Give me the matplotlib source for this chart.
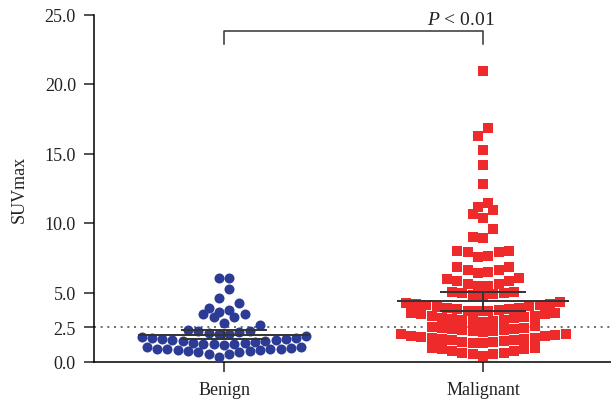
import matplotlib
matplotlib.use("Agg")
import matplotlib.pyplot as plt

plt.rcParams["font.family"] = ["Liberation Serif", "DejaVu Serif"]
plt.rcParams["mathtext.fontset"] = "custom"
plt.rcParams["mathtext.rm"] = "Liberation Serif"
plt.rcParams["mathtext.it"] = "Liberation Serif:italic"

# SUVmax values
groups = ["Benign", "Malignant"]
benign = [
    0.36, 0.55, 0.58, 0.72, 0.72, 0.81, 0.81, 0.88, 0.88, 0.92, 0.92, 0.96, 0.96, 1.0, 1.05, 1.07,
    1.22, 1.26, 1.28, 1.32, 1.35, 1.4, 1.42, 1.48, 1.5, 1.56, 1.58, 1.64, 1.66, 1.72, 1.75, 1.82, 1.85,
    2.01, 2.04, 2.1, 2.14, 2.2, 2.25, 2.32, 2.68,
    2.78, 3.21, 3.21, 3.45, 3.45,
    3.62, 3.74, 3.86, 4.22,
    4.63, 5.22,
    6.05, 6.05,
]
malignant = [
    0.41, 0.58, 0.58, 0.65, 0.65, 0.77, 0.77, 0.93, 0.93, 1.0, 1.0,
    1.37, 1.4, 1.42, 1.47, 1.5, 1.55, 1.58, 1.64, 1.66, 1.72, 1.75, 1.81, 1.84, 1.9, 1.93, 1.98, 2.01,
    2.14, 2.2, 2.22, 2.28, 2.3, 2.36, 2.38, 2.45, 2.47, 2.53, 2.56,
    2.9, 2.92, 2.95, 3.02, 3.05, 3.1, 3.13, 3.2, 3.23, 3.3, 3.33, 3.42, 3.45, 3.53, 3.56,
    3.65, 3.67, 3.7, 3.72, 3.78, 3.8, 3.87, 3.9, 3.97, 4.0, 4.07, 4.1, 4.18, 4.2, 4.28, 4.32,
    4.65, 4.8, 4.89, 4.95, 5.0, 5.04, 5.06,
    5.45, 5.48, 5.6, 5.63, 5.82, 5.85, 6.0, 6.02,
    6.42, 6.5, 6.62, 6.62, 6.81, 6.81,
    7.57, 7.6, 7.91, 7.91, 8.01, 8.01,
    8.9, 8.99, 9.57,
    10.37, 10.67, 10.97,
    11.17, 11.42,
    12.77, 14.17, 15.27, 16.24, 16.83, 20.91,
]
# mean and error bar ends
means = [1.96, 4.39]
err_low = [1.63, 3.69]
err_high = [2.32, 5.06]
cutoff = 2.5
yticks = [0.0, 2.5, 5.0, 10.0, 15.0, 20.0, 25.0]
p_text = "$\\it{P}$ < 0.01"


def column_scatter(values, center, h=0.73, step=0.0398):
    # prism-like layout: rows of close values spread out from the centre
    vals = sorted(values)
    xs, ys = [], []
    i = 0
    while i < len(vals):
        start = vals[i]
        row = []
        while i < len(vals) and vals[i] < start + h:
            row.append(vals[i])
            i += 1
        n = len(row)
        if n % 2:
            slots = [0] + [s for k in range(1, n // 2 + 1) for s in (-k, k)]
        else:
            slots = [s for k in range(n // 2) for s in (-(k + 0.5), k + 0.5)]
        for v, s in zip(row, slots):
            xs.append(center + s * step)
            ys.append(v)
    return xs, ys


fig = plt.figure(figsize=(6.11, 4.02), dpi=100)
ax = fig.add_axes([94 / 611, 39 / 402, 517 / 611, 347.5 / 402])

bx, by = column_scatter(benign, 0)
mx, my = column_scatter(malignant, 1)
ax.scatter(bx, by, s=52, marker="o", color="#2c3b96", linewidths=0, zorder=3)
ax.scatter(mx, my, s=46, marker="s", color="#ee2a2a", linewidths=0, zorder=3)

for i in range(2):
    ax.hlines(means[i], i - 0.332, i + 0.332, color="#333333", lw=1.4, zorder=4)
    ax.hlines([err_low[i], err_high[i]], i - 0.166, i + 0.166, color="#333333", lw=1.4, zorder=4)
    ax.vlines(i, err_low[i], err_high[i], color="#333333", lw=1.4, zorder=4)

ax.axhline(cutoff, color="#555555", lw=1.2, ls=(0, (1.2, 2.8)), zorder=1)

# significance bracket
ax.plot([0, 0, 1, 1], [22.9, 23.8, 23.8, 22.9], color="#333333", lw=1.1, clip_on=False)
ax.text(0.915, 24.05, p_text, ha="center", va="bottom", fontsize=14, color="#222222",
        clip_on=False)

ax.set_xlim(-0.502, 1.494)
ax.set_ylim(0, 25)
ax.set_xticks([0, 1])
ax.set_xticklabels(groups, fontsize=13, color="#222222")
ax.set_yticks(yticks)
ax.set_yticklabels(["%.1f" % t for t in yticks], fontsize=13, color="#222222")
ax.set_ylabel("SUVmax", fontsize=13, labelpad=12, color="#222222")
ax.spines["top"].set_visible(False)
ax.spines["right"].set_visible(False)
ax.spines["left"].set_linewidth(1.1)
ax.spines["bottom"].set_linewidth(1.1)
ax.tick_params(axis="both", direction="out", length=7, width=1.1, color="#222222")
ax.tick_params(axis="y", pad=6)
ax.tick_params(axis="x", pad=7)

fig.savefig("out.png", dpi=100)
